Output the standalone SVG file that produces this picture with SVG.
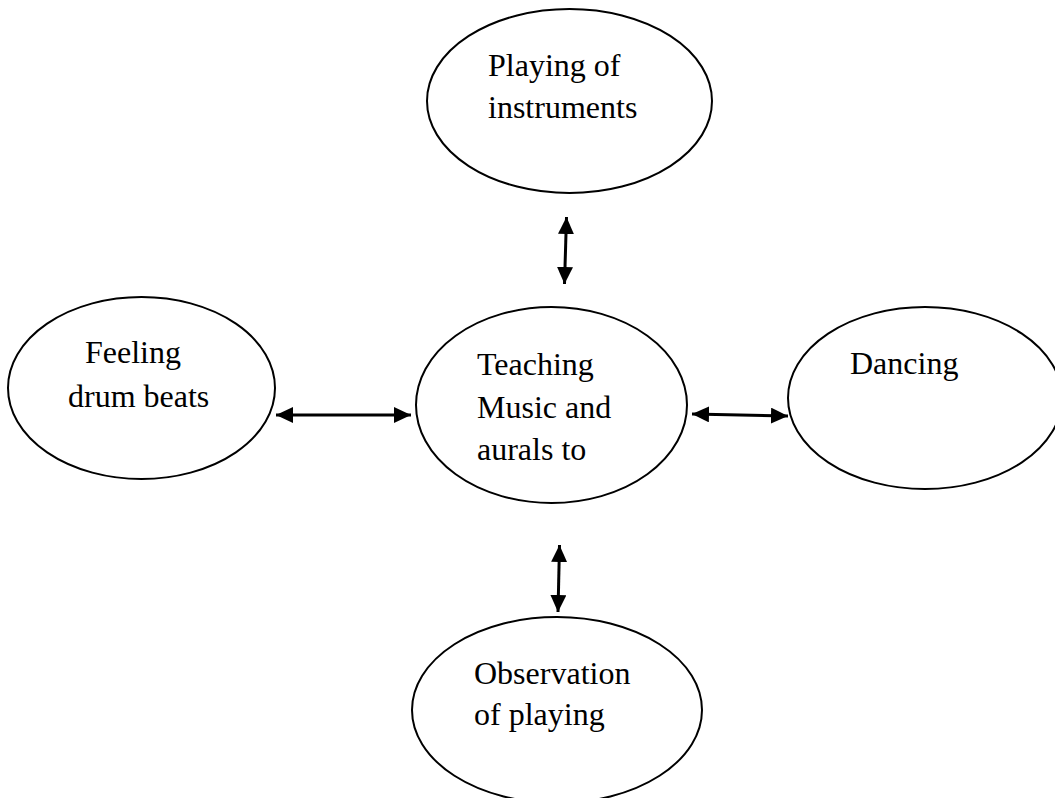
<svg xmlns="http://www.w3.org/2000/svg" width="1055" height="798" viewBox="0 0 1055 798">
<style>
.node ellipse{fill:#fff;stroke:#000;stroke-width:2}
.node text{font-family:"Liberation Serif","Times New Roman",serif;font-size:32px;fill:#000}
.conn line{stroke:#000;stroke-width:3;fill:none}
</style>
<defs>
<marker id="ah" viewBox="0 0 17 16" refX="17" refY="8" markerWidth="17" markerHeight="16" markerUnits="userSpaceOnUse" orient="auto-start-reverse">
<path d="M0,0 L17,8 L0,16 Z" fill="#000"/>
</marker>
</defs>
<rect width="1055" height="798" fill="#fff"/>
<g id="node-top" class="node">
<ellipse cx="569.5" cy="101" rx="142.5" ry="92"/>
<text x="488" y="76">Playing of</text>
<text x="488" y="118">instruments</text>
</g>
<g id="node-left" class="node">
<ellipse cx="141.5" cy="388" rx="133.5" ry="91"/>
<text x="85" y="363">Feeling</text>
<text x="68" y="407">drum beats</text>
</g>
<g id="node-center" class="node">
<ellipse cx="551.5" cy="405" rx="135.5" ry="98"/>
<text x="477" y="375">Teaching</text>
<text x="477" y="418">Music and</text>
<text x="477" y="460">aurals to</text>
</g>
<g id="node-right" class="node">
<ellipse cx="925" cy="398" rx="137" ry="91"/>
<text x="850" y="374">Dancing</text>
</g>
<g id="node-bottom" class="node">
<ellipse cx="557" cy="710" rx="145" ry="93"/>
<text x="474" y="684">Observation</text>
<text x="474" y="725">of playing</text>
</g>
<g id="connectors" class="conn">
<line x1="566.5" y1="217" x2="564.5" y2="284" marker-start="url(#ah)" marker-end="url(#ah)"/>
<line x1="276" y1="415" x2="411" y2="415" marker-start="url(#ah)" marker-end="url(#ah)"/>
<line x1="692" y1="414" x2="788" y2="416" marker-start="url(#ah)" marker-end="url(#ah)"/>
<line x1="559.5" y1="545" x2="558" y2="612" marker-start="url(#ah)" marker-end="url(#ah)"/>
</g>
</svg>
